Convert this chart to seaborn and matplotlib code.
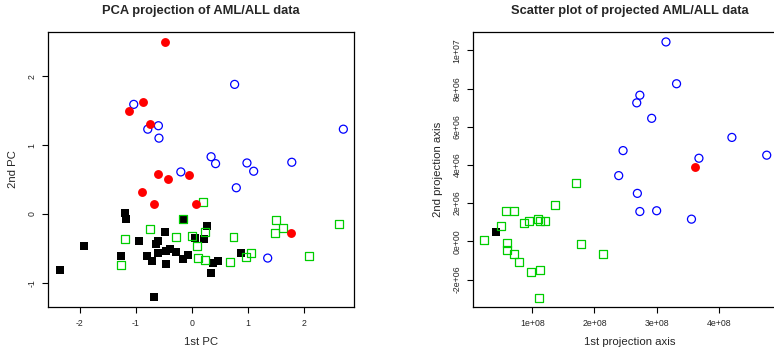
import matplotlib
matplotlib.use("Agg")
import matplotlib.pyplot as plt
import seaborn as sns

## values

# left panel: PCA projection, (1st PC, 2nd PC)
pca_aml_red_x = [-0.48, -1.13, -0.88, -0.75, -0.60, -0.42, -0.05, -0.89, -0.68, 0.07, 1.77]
pca_aml_red_y = [2.50, 1.50, 1.62, 1.31, 0.58, 0.50, 0.56, 0.32, 0.14, 0.14, -0.28]
pca_aml_blue_x = [0.76, -1.04, -0.79, -0.60, -0.59, 2.70, 0.34, 0.42, 0.98, 1.10, 1.78, -0.20, 0.79, 1.35]
pca_aml_blue_y = [1.88, 1.59, 1.23, 1.28, 1.10, 1.23, 0.83, 0.73, 0.74, 0.62, 0.75, 0.61, 0.38, -0.64]
pca_all_black_x = [-1.20, -1.17, -2.35, -1.92, -1.26, -0.94, -0.80, -0.71, -0.68, -0.48, -0.60,
                   -0.64, -0.60, -0.46, -0.39, -0.46, -0.28, -0.16, -0.08, -0.14, 0.06, 0.21,
                   0.26, 0.38, 0.47, 0.33, 0.88]
pca_all_black_y = [0.01, -0.07, -0.81, -0.46, -0.61, -0.39, -0.61, -0.68, -1.20, -0.26, -0.39,
                   -0.43, -0.57, -0.54, -0.51, -0.72, -0.55, -0.66, -0.59, -0.09, -0.35, -0.36,
                   -0.17, -0.71, -0.68, -0.85, -0.57]
pca_all_green_x = [0.19, -0.16, -0.75, -1.19, -1.26, -0.29, 0.00, 0.23, 0.08, 0.11, 0.24, 0.67,
                   0.74, 0.97, 1.05, 1.49, 1.48, 1.63, 2.08, 2.63]
pca_all_green_y = [0.17, -0.08, -0.22, -0.37, -0.74, -0.33, -0.32, -0.26, -0.46, -0.64, -0.67,
                   -0.69, -0.33, -0.62, -0.56, -0.09, -0.28, -0.21, -0.61, -0.15]

# right panel: projected data (1st axis in 1e8, 2nd axis in 1e6)
proj_aml_blue_x = [3.15, 3.32, 2.73, 2.68, 2.92, 4.21, 2.46, 3.68, 4.77, 2.39, 2.69, 2.73, 3.00, 3.56]
proj_aml_blue_y = [10.44, 8.25, 7.65, 7.25, 6.44, 5.44, 4.75, 4.35, 4.51, 3.44, 2.51, 1.56, 1.60, 1.16]
proj_aml_red_x = [3.61]
proj_aml_red_y = [3.88]
proj_all_black_x = [0.41]
proj_all_black_y = [0.47]
proj_all_green_x = [0.23, 0.50, 0.58, 0.71, 0.86, 0.94, 1.10, 1.13, 1.21, 1.37, 1.70, 0.60,
                    0.59, 0.71, 0.78, 0.98, 1.12, 1.11, 1.79, 2.13]
proj_all_green_y = [0.05, 0.79, 1.58, 1.58, 0.95, 1.07, 1.16, 1.05, 1.04, 1.89, 3.05, -0.09,
                    -0.46, -0.67, -1.09, -1.63, -1.51, -2.95, -0.16, -0.68]

pca_xticks = [-2, -1, 0, 1, 2]
pca_yticks = [-1, 0, 1, 2]
proj_xticks = [1, 2, 3, 4]
proj_yticks = [-2, 0, 2, 4, 6, 8, 10]
proj_xticklabels = ["1e+08", "2e+08", "3e+08", "4e+08"]
proj_yticklabels = ["-2e+06", "0e+00", "2e+06", "4e+06", "6e+06", "8e+06", "1e+07"]

sns.set_style("ticks")
plt.rcParams["font.family"] = ["Liberation Sans", "DejaVu Sans"]
plt.rcParams["axes.unicode_minus"] = False

fig = plt.figure(figsize=(7.74, 3.52), dpi=100)
ax1 = fig.add_axes([48 / 774, 45 / 352, 306 / 774, 275 / 352])
ax2 = fig.add_axes([473 / 774, 45 / 352, 313 / 774, 275 / 352])

RED = "#FF0000"
BLUE = "#0000FF"
GREEN = "#00CD00"
MS = 33


def draw_groups(ax, black, green, blue, red):
    sns.scatterplot(x=black[0], y=black[1], marker="s", s=MS, color="black",
                    edgecolor="black", linewidth=0, ax=ax)
    sns.scatterplot(x=green[0], y=green[1], marker="s", s=MS, color=GREEN,
                    facecolor="none", edgecolor=GREEN, linewidth=0.9, ax=ax)
    sns.scatterplot(x=blue[0], y=blue[1], marker="o", s=MS, color=BLUE,
                    facecolor="none", edgecolor=BLUE, linewidth=0.9, ax=ax)
    sns.scatterplot(x=red[0], y=red[1], marker="o", s=MS + 8, color=RED,
                    edgecolor=RED, linewidth=0, ax=ax)


draw_groups(ax1, (pca_all_black_x, pca_all_black_y), (pca_all_green_x, pca_all_green_y),
            (pca_aml_blue_x, pca_aml_blue_y), (pca_aml_red_x, pca_aml_red_y))
draw_groups(ax2, (proj_all_black_x, proj_all_black_y), (proj_all_green_x, proj_all_green_y),
            (proj_aml_blue_x, proj_aml_blue_y), (proj_aml_red_x, proj_aml_red_y))

ax1.set_xlim(-2.57, 2.89)
ax1.set_ylim(-1.35, 2.64)
ax1.set_xticks(pca_xticks)
ax1.set_yticks(pca_yticks)
ax1.set_title("PCA projection of AML/ALL data", fontsize=9.3, fontweight="bold", pad=13)
ax1.set_xlabel("1st PC", fontsize=8.2, labelpad=7)
ax1.set_ylabel("2nd PC", fontsize=8.2, labelpad=7)

ax2.set_xlim(0.047, 5.08)
ax2.set_ylim(-3.44, 10.96)
ax2.set_xticks(proj_xticks)
ax2.set_xticklabels(proj_xticklabels)
ax2.set_yticks(proj_yticks)
ax2.set_yticklabels(proj_yticklabels)
ax2.set_title("Scatter plot of projected AML/ALL data", fontsize=9.3, fontweight="bold", pad=13)
ax2.set_xlabel("1st projection axis", fontsize=8.2, labelpad=7)
ax2.set_ylabel("2nd projection axis", fontsize=8.2, labelpad=7)

for ax in (ax1, ax2):
    ax.tick_params(axis="both", labelsize=6.3, length=4.3, width=0.8, pad=4, color="black")
    for lab in ax.get_yticklabels():
        lab.set_rotation(90)
        lab.set_verticalalignment("center")
    for sp in ax.spines.values():
        sp.set_linewidth(0.9)
        sp.set_color("black")

fig.savefig("out.png", dpi=100)
